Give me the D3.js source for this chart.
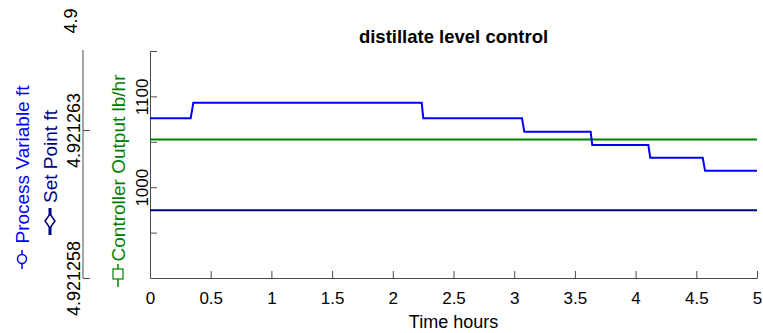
<!DOCTYPE html>
<html>
<head>
<meta charset="utf-8">
<script src="https://cdn.jsdelivr.net/npm/d3@7/dist/d3.min.js"></script>
<style>
  html, body { margin: 0; padding: 0; background: #fff; }
  svg { display: block; font-family: "Liberation Sans", Arial, Helvetica, sans-serif; }
</style>
</head>
<body>
<svg id="chart" width="763" height="333"></svg>
<script>
// ---- data ----
const chartTitle = "distillate level control";
const xLabel = "Time hours";
const pvLabel = "Process Variable ft";
const spLabel = "Set Point ft";
const coLabel = "Controller Output lb/hr";

// Process variable trace (hours, ft)
const pvTimes  = [0, 0.335, 0.357, 2.238, 2.251, 3.064, 3.083, 3.630, 3.643, 4.105, 4.121, 4.553, 4.572, 5];
const pvValues = [4.92126340, 4.92126340, 4.92126392, 4.92126392, 4.92126340, 4.92126340, 4.92126294,
                  4.92126294, 4.92126249, 4.92126249, 4.92126206, 4.92126206, 4.92126162, 4.92126162];

// Set point trace (hours, ft)
const spTimes  = [0, 5];
const spValues = [4.92126029, 4.92126029];

// Controller output trace (hours, lb/hr)
const coTimes  = [0, 5];
const coValues = [1052.4, 1052.4];

// Axis ticks
const xTicks = [0, 0.5, 1, 1.5, 2, 2.5, 3, 3.5, 4, 4.5, 5];
const coTicks = [950, 1000, 1050, 1100, 1150];
const coTickLabels = ["", "1000", "", "1100", ""];
const ftTicks = [4.921258, 4.921263];
const ftTickLabels = ["4.921258", "4.921263"];
const ftTopLabel = "4.9";

// ---- layout ----
const svg = d3.select("#chart");
const plot = { left: 150, right: 757, top: 51, bottom: 278 };
const outerAxisX = 83;

const x = d3.scaleLinear().domain([0, 5]).range([plot.left, plot.right]);
const yCo = d3.scaleLinear().domain([900, 1150]).range([plot.bottom, plot.top]);
const yFt = d3.scaleLinear().domain([4.921258, 4.921263]).range([plot.bottom, 130]);

const axisColor = "#4a4a4a";
const blue = "#0000ff", navy = "#000080", green = "#008000";

// ---- title ----
svg.append("text")
  .attr("x", (plot.left + plot.right) / 2)
  .attr("y", 43)
  .attr("text-anchor", "middle")
  .attr("font-weight", "bold")
  .attr("font-size", 18.5)
  .attr("fill", "#000")
  .text(chartTitle);

// ---- x axis ----
const xAxis = svg.append("g")
  .attr("transform", `translate(0,${plot.bottom})`)
  .call(d3.axisBottom(x).tickValues(xTicks).tickSizeInner(-7).tickSizeOuter(0)
        .tickFormat(d3.format("~g")));
xAxis.select(".domain").attr("stroke", axisColor);
xAxis.selectAll(".tick line").attr("stroke", axisColor);
xAxis.selectAll(".tick text")
  .attr("y", 26).attr("dy", 0)
  .attr("font-size", 17).attr("fill", "#000")
  .attr("font-family", null);

svg.append("text")
  .attr("x", (plot.left + plot.right) / 2)
  .attr("y", 328)
  .attr("text-anchor", "middle")
  .attr("font-size", 18)
  .attr("fill", "#000")
  .text(xLabel);

// ---- inner left axis (controller output) ----
const coAxis = svg.append("g")
  .attr("transform", `translate(${plot.left},0)`)
  .call(d3.axisLeft(yCo).tickValues(coTicks).tickSizeInner(-7).tickSizeOuter(0)
        .tickFormat((d, i) => coTickLabels[i]));
coAxis.select(".domain").attr("stroke", axisColor);
coAxis.selectAll(".tick line").attr("stroke", axisColor);
coAxis.selectAll(".tick text")
  .attr("x", null).attr("dy", null)
  .attr("transform", "translate(-2,0) rotate(-90)")
  .attr("text-anchor", "middle")
  .attr("font-size", 17).attr("fill", "#000")
  .attr("font-family", null);

// ---- outer left axis (ft) ----
const ftAxis = svg.append("g")
  .attr("transform", `translate(${outerAxisX},0)`)
  .call(d3.axisLeft(yFt).tickValues(ftTicks).tickSizeInner(-7).tickSizeOuter(0)
        .tickFormat((d, i) => ftTickLabels[i]));
ftAxis.select(".domain").attr("stroke", axisColor)
  .attr("d", `M0,${plot.top - 1}V${plot.bottom}`);
ftAxis.selectAll(".tick line").attr("stroke", axisColor);
ftAxis.selectAll(".tick text")
  .attr("x", null).attr("dy", null)
  .attr("transform", "translate(-3,0) rotate(-90)")
  .attr("text-anchor", "middle")
  .attr("font-size", 18).attr("fill", "#000")
  .attr("font-family", null);
ftAxis.append("text")
  .attr("transform", `translate(-6,${plot.top - 30}) rotate(-90)`)
  .attr("text-anchor", "middle")
  .attr("font-size", 18).attr("fill", "#000")
  .text(ftTopLabel);

// ---- series ----
const lineFt = d3.line().x(d => x(d[0])).y(d => yFt(d[1]));
const lineCo = d3.line().x(d => x(d[0])).y(d => yCo(d[1]));

svg.append("path")
  .datum(d3.zip(spTimes, spValues))
  .attr("d", lineFt).attr("fill", "none")
  .attr("stroke", navy).attr("stroke-width", 2);

svg.append("path")
  .datum(d3.zip(coTimes, coValues))
  .attr("d", lineCo).attr("fill", "none")
  .attr("stroke", green).attr("stroke-width", 2);

svg.append("path")
  .datum(d3.zip(pvTimes, pvValues))
  .attr("d", lineFt).attr("fill", "none")
  .attr("stroke", blue).attr("stroke-width", 2);

// ---- rotated axis labels with their marker keys ----
function axisTitle(text, color, baseX, centerY) {
  svg.append("text")
    .attr("transform", `translate(${baseX},${centerY}) rotate(-90)`)
    .attr("text-anchor", "middle")
    .attr("font-size", 19)
    .attr("fill", color)
    .text(text);
}

axisTitle(pvLabel, blue, 29, 164.5);
axisTitle(spLabel, navy, 57, 156.5);
axisTitle(coLabel, green, 124.5, 168);

// Process variable key: line with open circle
const pvKey = svg.append("g").attr("transform", "translate(22,259)");
pvKey.append("line").attr("y1", -9).attr("y2", 10).attr("stroke", blue).attr("stroke-width", 1.5);
pvKey.append("circle").attr("r", 4.5).attr("fill", "#fff").attr("stroke", blue).attr("stroke-width", 1.5);

// Set point key: thick line with open diamond
const spKey = svg.append("g").attr("transform", "translate(50,221)");
spKey.append("line").attr("y1", -13).attr("y2", 14).attr("stroke", navy).attr("stroke-width", 3);
spKey.append("path").attr("d", "M0,-7L5,0L0,7L-5,0Z")
  .attr("fill", "#fff").attr("stroke", navy).attr("stroke-width", 1.5);

// Controller output key: line with open square
const coKey = svg.append("g").attr("transform", "translate(118,274)");
coKey.append("line").attr("y1", -10).attr("y2", 13).attr("stroke", green).attr("stroke-width", 1.5);
coKey.append("rect").attr("x", -5).attr("y", -5).attr("width", 10).attr("height", 10)
  .attr("fill", "#fff").attr("stroke", green).attr("stroke-width", 1.2);
</script>
</body>
</html>
